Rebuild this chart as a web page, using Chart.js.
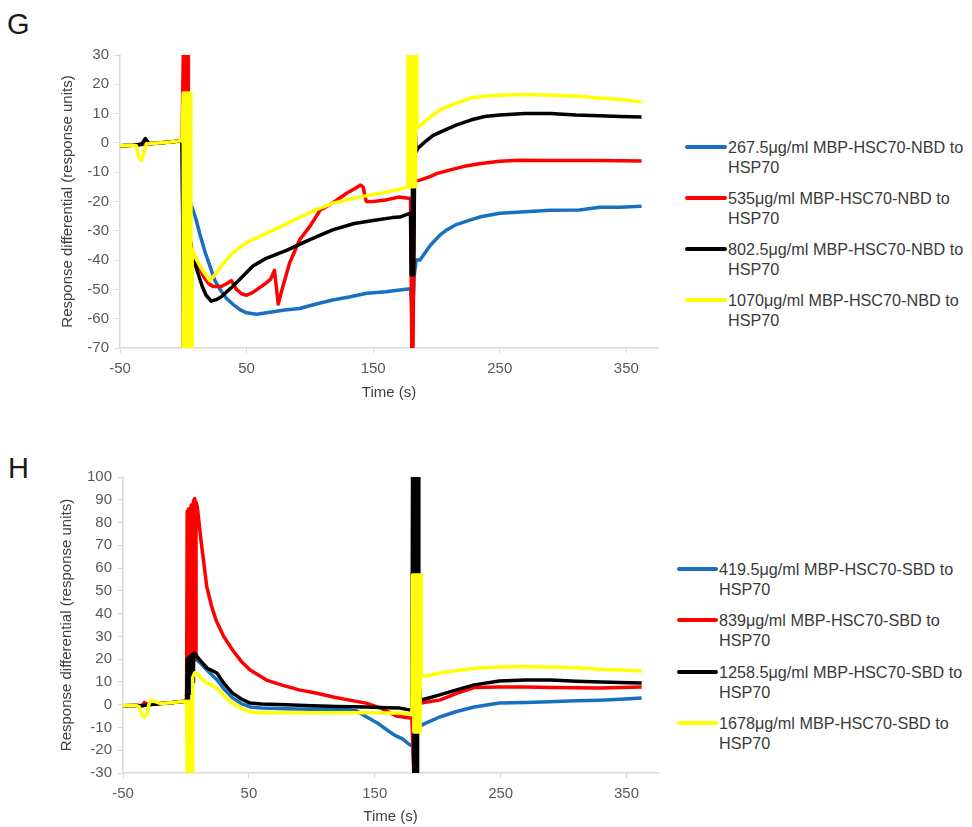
<!DOCTYPE html>
<html>
<head>
<meta charset="utf-8">
<script src="https://cdn.jsdelivr.net/npm/chart.js@4.4.1/dist/chart.umd.min.js"></script>
<style>
  html, body { margin: 0; padding: 0; background: #fff; }
  body { width: 972px; height: 827px; position: relative; overflow: hidden;
         font-family: "Liberation Sans", Arial, sans-serif; }
  canvas { position: absolute; left: 0; }
  .panel { position: absolute; font-size: 29px; color: #1a1a1a; }
  .legend { position: absolute; }
  .item { position: absolute; left: 0; white-space: nowrap; font-size: 16.2px; line-height: 20px; color: #3a3a3a; }
  .sw { position: absolute; height: 4px; border-radius: 2px; }
</style>
</head>
<body>
<div class="panel" style="left:7px; top:8px;">G</div>
<div class="panel" style="left:8px; top:452px;">H</div>
<canvas id="g" width="670" height="410" style="top:0px;"></canvas>
<canvas id="h" width="670" height="407" style="top:420px;"></canvas>
<div id="legG" class="legend"></div>
<div id="legH" class="legend"></div>
<script>
// ---------- shared ----------
const xTicks = [-50, 50, 150, 250, 350];
const seriesColors = ['#1a70c0', '#ff0000', '#000000', '#ffff00'];

// ---------- panel G (NBD) ----------
const gLabels = [
  ['267.5\u03bcg/ml MBP-HSC70-NBD to', 'HSP70'],
  ['535\u03bcg/ml MBP-HSC70-NBD to', 'HSP70'],
  ['802.5\u03bcg/ml MBP-HSC70-NBD to', 'HSP70'],
  ['1070\u03bcg/ml MBP-HSC70-NBD to', 'HSP70']
];
const gYTicks = { min: -70, max: 30, step: 10 };

const gBlueT = [-50,-40,-30,-20,-10,-1,0.5,2,3.5,5,7,10,13,17,21,25,29,34,39,45,50,58,66,80,92,105,118,132,145,160,171,179.5,181,182.5,184,187,195,203,208,215,227,235,250,270,290,313,329,345,362];
const gBlueV = [-1,-0.8,-0.5,0,0.3,0.8,-70,-60,-22,-21,-22,-26,-31,-37,-42,-47,-50,-53,-55,-57,-58,-58.5,-58,-57,-56.5,-55,-53.6,-52.5,-51.3,-50.8,-50.2,-49.8,-60,-45,-40,-40,-35,-31.4,-29.7,-28,-26.3,-25.2,-24,-23.5,-23,-22.9,-22,-22,-21.6];

const gRedT = [-50,-40,-30,-20,-10,-1,0,0,1,1,2,2,3,3,4,4,5.5,8,12,16,20,23.5,30,34.5,38,42,46,50,55,60,65,69,72,75,78,84,92,100,108,118,129,136,140,142,144.5,150,160,170,179.5,180.5,181.5,182.5,187,195,200,211,222,235,250,266,290,329,362];
const gRedV = [-1,-0.8,-0.3,0,0.3,0.8,30,-70,-70,30,30,-70,-70,30,30,-70,-35,-38,-42,-45.6,-48,-49,-49,-48,-47,-50,-51.5,-52,-51,-49.5,-48,-46.5,-43.5,-55,-50,-41,-33,-28.5,-23,-20.5,-17.2,-15.5,-14.4,-15,-20,-20,-19.5,-18.5,-19,-70,-70,-13,-12.7,-11.5,-10.5,-9.2,-8,-7,-6.3,-5.9,-6,-6,-6.2];

const gBlackT = [-50,-40,-33,-30,-27,-20,-10,-1,0.5,2,3.5,5,7,9,12,15,18,22,26,30,39,47,55,65,82,100,118,135,150,165,171,179.5,180,181,181,182,182,183,184,185,190,197,203,215,227,238,250,270,290,310,329,345,362];
const gBlackV = [-1,-0.8,-0.5,1.5,-0.3,0,0.3,0.8,-70,-25,-30,-32,-37,-41,-45,-49,-52,-54,-53.5,-52.5,-49,-45.5,-42,-39.5,-36.6,-33,-29.7,-27.5,-26.5,-25.5,-25.3,-24,-45,-45,-15,-15,-45,6,-3,-2,0,2.5,3.7,6,7.8,9,9.5,10,10,9.5,9.3,9,8.8];

const gYellowT = [-50,-40,-37,-35,-33,-31,-29,-20,-10,-1,0,0,1,1,2,2,3,3,4,4,5,5,6,6,7,7,8,12,16,21,25,30,39,50,66,80,92,105,118,132,145,160,171,177,177.5,178.5,178.5,179.5,179.5,180.5,180.5,181.5,181.5,182.5,182.5,183.5,183.5,184.5,184.5,186,190,197,203,215,227,240,250,270,290,310,329,345,362];
const gYellowV = [-1,-0.8,-1,-5,-6,-3,-0.3,0,0.3,0.8,17,-70,-70,17,17,-70,-70,17,17,-70,-70,17,17,-70,-70,-36,-38,-41,-44,-47,-45,-42,-37.6,-34,-30.8,-28,-25.3,-22.8,-20.6,-19.2,-18,-16.8,-15.8,-15,30,30,-15,-15,30,30,-15,-15,30,30,-15,-15,30,30,5,5.5,7,9.5,11.3,13.5,15.3,16,16.3,16.5,16.3,16,15.3,14.8,14];

// ---------- panel H (SBD) ----------
const hLabels = [
  ['419.5\u03bcg/ml MBP-HSC70-SBD to', 'HSP70'],
  ['839\u03bcg/ml MBP-HSC70-SBD to', 'HSP70'],
  ['1258.5\u03bcg/ml MBP-HSC70-SBD to', 'HSP70'],
  ['1678\u03bcg/ml MBP-HSC70-SBD to', 'HSP70']
];
const hYTicks = { min: -30, max: 100, step: 10 };

const hBlueT = [-50,-40,-35,-30,-20,-10,-1,1,2,4,8,12,17,24.6,30,37,44,51,60,80,100,120,135,143.6,152,159.5,166,172,178,180,181.5,183,187,195,201.6,215,229,249,270,289,310,329,345,362];
const hBlueV = [-0.5,-0.3,-0.5,0,0.5,1,1.5,2,17,18,20,18,15,11,7,3,0.5,-1,-1.5,-1.8,-2,-2,-2.5,-5.4,-8,-11,-13.5,-15,-17.7,-18,-30,-9,-9,-7,-5.4,-3,-1,0.7,1,1.3,1.7,2,2.4,2.9];

const hRedT = [-50,-40,-35,-33,-30,-20,-10,-1,0.5,1,1,2,2,3,3,4,4,5,5,6,6,7,7,8,8,9,12,16.5,20,24,30,37,44,51,64,77,90,104,117,130,143,155,167,179.5,181,183,187,195,201.6,215,229,249,270,290,329,362];
const hRedV = [-0.5,-0.3,-0.5,1,0,0.5,1,1.5,2,85,20,20,86,86,20,20,87.5,88,20,20,89.5,90.5,20,20,89,87,72,52,44,37,30,24,19,15.2,10.8,8.5,6.5,5,3.4,2,0.7,-1.5,-5,-6,-30,0.7,0.7,1.5,2,5,7.5,7.8,7.8,7.5,7.3,7.8];

const hBlackT = [-50,-40,-35,-30,-20,-10,-1,0.5,1,1,2,2,3,3,4,4,5,5,6,6,7,8,9,12,17,24.6,30,37,44,51,60,80,100,120,143,160,170,179.5,180,181,181,182,182,183,183,184,184,185,185,186.5,190,201.6,215,229,249,270,290,310,330,345,362];
const hBlackV = [-0.5,-0.3,-0.5,0,0.5,1,1.5,2,20,2,2,20.5,21,5,5,21.5,22,10,10,22.3,22.6,22,21,19,16,13.9,9.5,5.1,2.5,0.7,0.3,0,-0.5,-0.8,-1,-1.3,-1.5,-2.5,100,100,-30,-30,100,100,-30,-30,100,100,10,2,2.5,4.3,6.5,8.7,10.4,10.8,10.8,10.3,10,9.8,9.5];

const hYellowT = [-50,-40,-37,-35,-33,-31,-29.5,-28,-20,-10,-1,0.5,1,2,2,3,3,4,4,5,5,5.5,5.5,7,9,12,17,24.6,30,37,44,51,60,80,100,120,143,160,170,179.5,180,181,181,182,182,183,183,184,184,185,185,186,186,187,187,190,201.6,215,229,249,270,290,310,329,345,362];
const hYellowV = [-0.5,-0.3,-1,-4.5,-5.5,-4,0,2,0.5,1,1.5,1.5,-30,-30,1.5,1.5,-30,-30,1.5,1.5,-30,-30,12,14,13.5,11.5,9.5,7.3,4,0.7,-1.5,-3.2,-3.5,-3.5,-3.5,-3.5,-3.5,-3.6,-3.6,-4,57,57,-12,-12,57,57,-12,-12,57,57,-12,-12,57,57,13,12.5,13.9,15,16,16.6,16.7,16.6,16.2,15.6,15.2,14.8];

// ---------- builders ----------
const FONT = '"Liberation Sans", Arial, sans-serif';
function pts(ts, vs) { return ts.map((t, i) => ({ x: t, y: vs[i] })); }

function buildChart(id, series, labels, yt, geo) {
  const datasets = series.map((s, i) => ({
    label: labels[i].join(' '),
    data: pts(s[0], s[1]),
    borderColor: seriesColors[i],
    backgroundColor: seriesColors[i],
    borderWidth: 3.5,
    pointRadius: 0,
    tension: 0,
    borderJoinStyle: 'round',
    order: 4 - i
  }));
  return new Chart(document.getElementById(id), {
    type: 'line',
    data: { datasets },
    options: {
      responsive: false,
      animation: false,
      layout: { padding: { left: 0, right: geo.padRight, top: geo.padTop, bottom: 0 } },
      plugins: { legend: { display: false }, tooltip: { enabled: false } },
      scales: {
        x: {
          type: 'linear', min: -50, max: 375,
          afterBuildTicks: sc => { sc.ticks = xTicks.map(v => ({ value: v })); },
          afterFit: sc => { sc.height = geo.xHeight; },
          grid: { display: true, drawOnChartArea: false, drawTicks: true, tickLength: 5, color: '#d9d9d9' },
          border: { color: '#d9d9d9', width: 1.5 },
          ticks: { color: '#595959', font: { family: FONT, size: 15 }, padding: 7, maxRotation: 0 },
          title: { display: true, text: 'Time (s)', color: '#404040', font: { family: FONT, size: 15 },
                   padding: { top: 0, bottom: geo.xTitlePad } }
        },
        y: {
          min: yt.min, max: yt.max,
          ticks: { stepSize: yt.step, color: '#595959', font: { family: FONT, size: 15 }, padding: 6 },
          afterFit: sc => { sc.width = geo.yWidth; },
          grid: { display: true, drawOnChartArea: false, drawTicks: true, tickLength: 5, color: '#d9d9d9' },
          border: { color: '#d9d9d9', width: 1.5 },
          title: { display: true, text: 'Response differential (response units)', color: '#404040',
                   font: { family: FONT, size: 15 }, padding: { top: geo.yTitlePad, bottom: 0 } }
        }
      }
    }
  });
}

function buildLegend(id, labels, geo) {
  const root = document.getElementById(id);
  labels.forEach((lines, i) => {
    const cy = geo.firstY + i * geo.step;
    const sw = document.createElement('div');
    sw.className = 'sw';
    sw.style.left = geo.swLeft + 'px';
    sw.style.width = geo.swWidth + 'px';
    sw.style.top = (cy - 2) + 'px';
    sw.style.background = seriesColors[i];
    root.appendChild(sw);
    const tx = document.createElement('div');
    tx.className = 'item';
    tx.style.left = geo.textLeft + 'px';
    tx.style.top = (cy - 10) + 'px';
    tx.innerHTML = lines.map(l => '<div>' + l + '</div>').join('');
    root.appendChild(tx);
  });
}

buildChart('g', [[gBlueT, gBlueV], [gRedT, gRedV], [gBlackT, gBlackV], [gYellowT, gYellowV]], gLabels, gYTicks,
  { padRight: 12, padTop: 55, xHeight: 62, yWidth: 120, xTitlePad: 8, yTitlePad: 59 });
buildChart('h', [[hBlueT, hBlueV], [hRedT, hRedV], [hBlackT, hBlackV], [hYellowT, hYellowV]], hLabels, hYTicks,
  { padRight: 12, padTop: 57, xHeight: 54, yWidth: 123, xTitlePad: 1, yTitlePad: 58 });

buildLegend('legG', gLabels, { firstY: 147, step: 51, swLeft: 685, swWidth: 42, textLeft: 728 });
buildLegend('legH', hLabels, { firstY: 569, step: 51.3, swLeft: 677, swWidth: 41, textLeft: 719 });
</script>
</body>
</html>
